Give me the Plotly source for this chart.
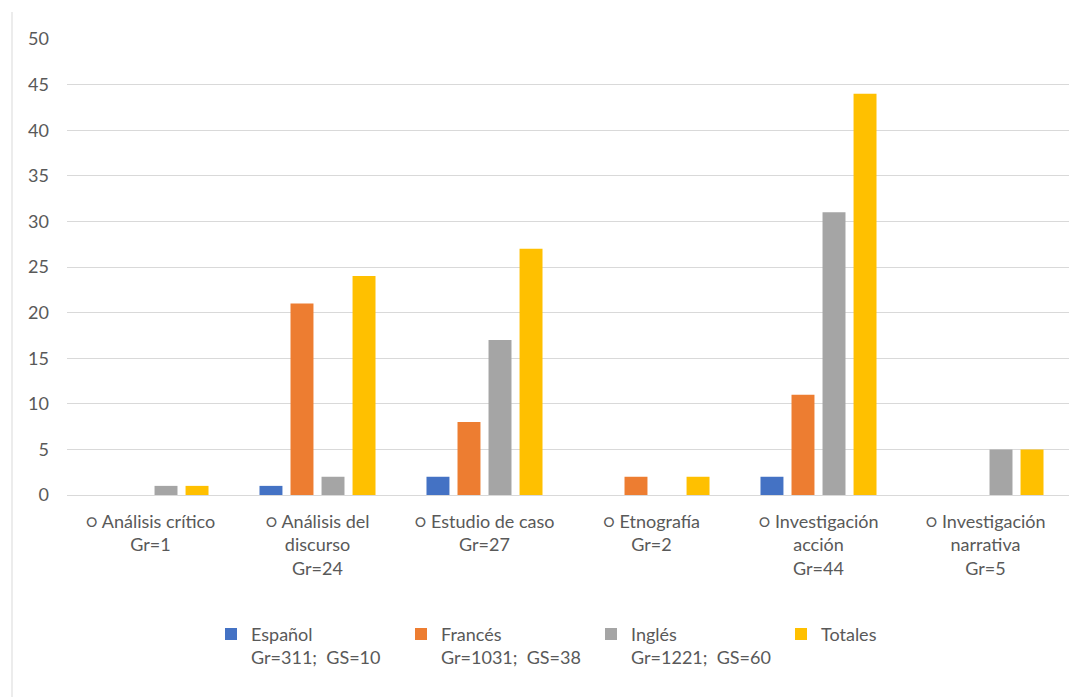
import plotly.graph_objects as go

categories = ["Análisis crítico", "Análisis del discurso", "Estudio de caso",
              "Etnografía", "Investigación acción", "Investigación narrativa"]
tick_labels = ["○ Análisis crítico<br>Gr=1",
               "○ Análisis del<br>discurso<br>Gr=24",
               "○ Estudio de caso<br>Gr=27",
               "○ Etnografía<br>Gr=2",
               "○ Investigación<br>acción<br>Gr=44",
               "○ Investigación<br>narrativa<br>Gr=5"]

espanol = [0, 1, 2, 0, 2, 0]
frances = [0, 21, 8, 2, 11, 0]
ingles = [1, 2, 17, 0, 31, 5]
totales = [1, 24, 27, 2, 44, 5]

series_names = ["Español<br>Gr=311;&nbsp; GS=10",
                "Francés<br>Gr=1031;&nbsp; GS=38",
                "Inglés<br>Gr=1221;&nbsp; GS=60",
                "Totales"]
series_values = [espanol, frances, ingles, totales]
colors = ["#4472C4", "#ED7D31", "#A5A5A5", "#FFC000"]

FONT = "Lato"
TXT = "#595959"

fig = go.Figure()
for name, vals, col in zip(series_names, series_values, colors):
    fig.add_trace(go.Bar(x=categories, y=vals, name=name,
                         marker=dict(color=col, line=dict(width=0))))

fig.update_layout(
    width=1087, height=697,
    margin=dict(l=67, r=18, t=39, b=202),
    paper_bgcolor="white", plot_bgcolor="white",
    barmode="group", bargap=0.257, bargroupgap=0.26,
    font=dict(family=FONT, size=18, color=TXT),
    showlegend=True,
    legend=dict(orientation="h", x=(211 - 67) / 1002, xanchor="left",
                y=-0.265, yanchor="top",
                valign="top", font=dict(family=FONT, size=18, color=TXT),
                itemwidth=30, traceorder="normal", tracegroupgap=0,
                entrywidth=145),
    xaxis=dict(tickmode="array", tickvals=categories, ticktext=tick_labels,
               showgrid=False, showline=False, zeroline=False, ticks="",
               tickfont=dict(family=FONT, size=18, color=TXT),
               ticklabelstandoff=14),
    yaxis=dict(range=[0, 50], dtick=5, tick0=0, showgrid=True,
               gridcolor="#D9D9D9", gridwidth=1, zeroline=True,
               zerolinecolor="#D9D9D9", zerolinewidth=1, showline=False,
               ticks="", tickfont=dict(family=FONT, size=18, color=TXT),
               ticklabelstandoff=17),
    shapes=[dict(type="line", xref="paper", yref="paper",
                 x0=(12 - 67) / 1002, x1=(12 - 67) / 1002,
                 y0=(495 - 12) / 456, y1=(495 - 697) / 456,
                 line=dict(color="#D9D9D9", width=1))],
)

fig.write_html("out.html")
